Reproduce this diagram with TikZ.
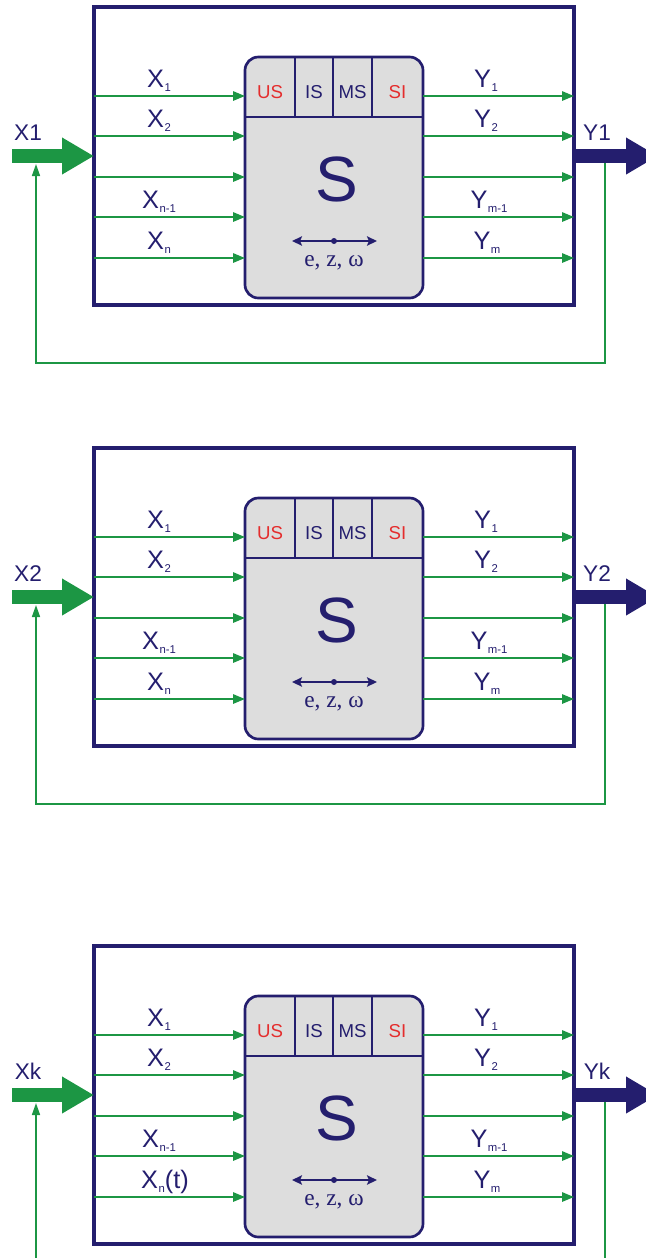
\documentclass[tikz,border=0pt]{standalone}
\usepackage{fontspec}
\setmainfont{Liberation Sans}
\newfontfamily\serifb{Liberation Serif}
\usetikzlibrary{arrows.meta}
\definecolor{navy}{RGB}{36,30,110}
\definecolor{grn}{RGB}{28,150,68}
\definecolor{redt}{RGB}{228,45,45}
\definecolor{boxgray}{RGB}{221,221,221}
\newcommand\sbs[1]{\kern0.4pt\raisebox{-3.2pt}{\fontsize{8.5}{8.5}\selectfont #1}}
\tikzset{
  outerbox/.style={draw=navy, line width=3pt, inner sep=0pt, outer sep=0pt},
  sbox/.style={draw=navy, fill=boxgray, line width=2pt, rounded corners=10pt, inner sep=0pt, outer sep=0pt},
  divider/.style={draw=navy, line width=0.8pt},
  hdr/.style={anchor=base, font=\fontsize{14}{14}\selectfont, inner sep=0pt},
  lab/.style={anchor=base, text=navy, font=\fontsize{19}{19}\selectfont, inner sep=0pt},
  biglab/.style={anchor=base, text=navy, font=\fontsize{17}{17}\selectfont, inner sep=0pt},
  garrow/.style={draw=grn, line width=1.5pt, -{Triangle[length=9pt,width=7pt]}},
  fback/.style={draw=grn, line width=1.2pt},
  bigin/.style={draw=grn, line width=10.5pt, -{Triangle[length=24pt,width=26pt]}},
  bigout/.style={draw=navy, line width=10.5pt, -{Triangle[length=24pt,width=26pt]}},
  darrow/.style={draw=navy, line width=1.5pt, {Stealth[length=7.5pt,width=7pt,inset=1.5pt]}-{Stealth[length=7.5pt,width=7pt,inset=1.5pt]}},
}
\newcommand\sysblock[6]{%
\begin{scope}[shift={(0,#1)}]
  \node[outerbox, minimum width=360pt, minimum height=223.5pt] (O#2) at (334,156) {};
  \node[sbox, minimum width=133.5pt, minimum height=180.75pt] (S#2) at (334,177.5) {};
  \coordinate (hl#2) at (245,117); \coordinate (hr#2) at (423,117);
  \draw[divider] (hl#2) -- (hr#2);
  \foreach \xx [count=\i] in {295,333,372} {
    \coordinate (dt#2-\i) at (\xx,57); \coordinate (db#2-\i) at (\xx,117);
    \draw[divider] (dt#2-\i) -- (db#2-\i);
  }
  \node[hdr, text=redt] (US#2) at (270,98) {US};
  \node[hdr, text=navy] (IS#2) at (314,98) {IS};
  \node[hdr, text=navy] (MS#2) at (352.5,98) {MS};
  \node[hdr, text=redt] (SI#2) at (397.5,98) {SI};
  \node[text=navy, font=\fontsize{48}{48}\selectfont, inner sep=0pt] (BS#2) at (337,179) {S};
  \coordinate (da#2) at (292,241); \coordinate (db#2) at (377,241);
  \draw[darrow] (da#2) -- (db#2);
  \fill[navy] (334,241) circle (3);
  \node[anchor=base, text=navy, font=\serifb\fontsize{17.5}{17.5}\selectfont, inner sep=0pt] (ezw#2) at (334,266) {e, z, ω};
  \foreach \yy [count=\i] in {96,136,177,217,258} {
    \coordinate (il#2-\i) at (94,\yy); \coordinate (ir#2-\i) at (245,\yy);
    \coordinate (ol#2-\i) at (423,\yy); \coordinate (or#2-\i) at (574,\yy);
    \draw[garrow] (il#2-\i) -- (ir#2-\i);
    \draw[garrow] (ol#2-\i) -- (or#2-\i);
  }
  \node[lab] (x1#2) at (159,87) {X\sbs{1}};
  \node[lab] (x2#2) at (159,127) {X\sbs{2}};
  \node[lab] (xn1#2) at (159,208) {X\sbs{n-1}};
  \node[lab] (xn#2) at (#6,249) {#5};
  \node[lab] (y1#2) at (486,87) {Y\sbs{1}};
  \node[lab] (y2#2) at (486,127) {Y\sbs{2}};
  \node[lab] (ym1#2) at (489,208) {Y\sbs{m-1}};
  \node[lab] (ym#2) at (487,249) {Y\sbs{m}};
  \coordinate (xin#2) at (12,156);
  \coordinate (yout#2) at (658,156);
  \draw[bigin] (xin#2) -- (O#2.west);
  \draw[bigout] (O#2.east) -- (yout#2);
  \node[biglab] (XL#2) at (28,140) {#3};
  \node[biglab] (YL#2) at (597,140) {#4};
  \coordinate (fr#2) at (605,163);
  \coordinate (fl#2) at (36,164);
\end{scope}}
\begin{document}
\begin{tikzpicture}[x=0.75pt, y=-0.75pt]
  \useasboundingbox (0,0) rectangle (646,1258);
  \clip (0,0) rectangle (646,1258);
  \sysblock{0}{a}{X1}{Y1}{X\sbs{n}}{159}
  \sysblock{441}{b}{X2}{Y2}{X\sbs{n}}{159}
  \sysblock{939}{c}{Xk}{Yk}{X\sbs{n}(t)}{165}
  % feedback loops
  \coordinate (fba1) at (605,363); \coordinate (fba2) at (36,363);
  \draw[fback, -{Triangle[length=9pt,width=6pt]}] (fra) -- (fba1) -- (fba2) -- (fla);
  \coordinate (fbb1) at (605,804); \coordinate (fbb2) at (36,804);
  \draw[fback, -{Triangle[length=9pt,width=6pt]}] (frb) -- (fbb1) -- (fbb2) -- (flb);
  \coordinate (fbc1) at (605,1270); \coordinate (fbc2) at (36,1270);
  \draw[fback] (frc) -- (fbc1);
  \draw[fback, -{Triangle[length=9pt,width=6pt]}] (fbc2) -- (flc);
\end{tikzpicture}
\end{document}
